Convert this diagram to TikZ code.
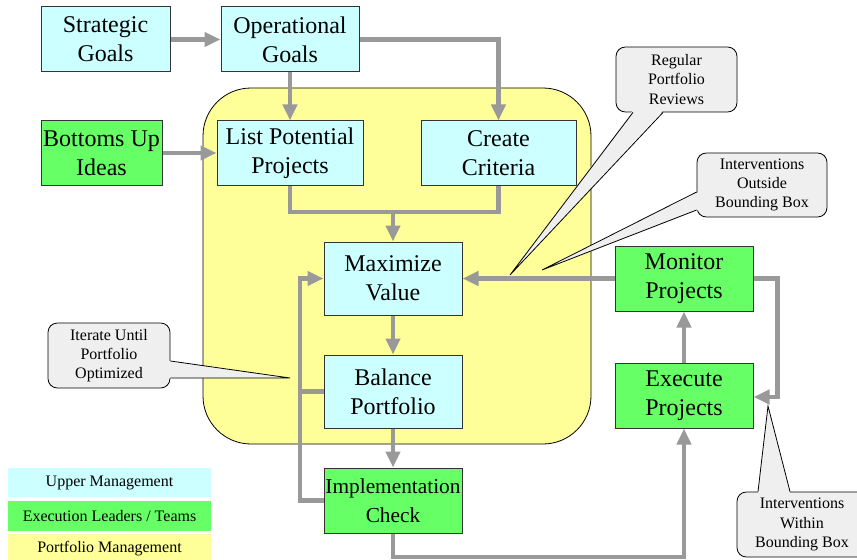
\documentclass[tikz,border=0pt]{standalone}
\usepackage{fontspec}
\setmainfont{Liberation Serif}
\usetikzlibrary{arrows.meta,calc}

\definecolor{uppercol}{HTML}{CCFFFF}
\definecolor{execcol}{HTML}{66FF66}
\definecolor{pfcol}{HTML}{FFFF99}
\definecolor{notecol}{HTML}{EFEFEF}
\definecolor{flowcol}{HTML}{999999}

\tikzset{
  box/.style={draw=black!80,line width=0.75pt,align=center,inner sep=0pt,
    font=\fontsize{18}{21.6}\selectfont,minimum width=103.5pt,minimum height=48.75pt},
  upbox/.style={box,fill=uppercol},
  exbox/.style={box,fill=execcol},
  line/.style={draw=flowcol,line width=3.6pt},
  flow/.style={line,-{Triangle[length=12pt,width=10.5pt]}},
  note/.style={draw=black,fill=notecol,line width=0.6pt,rounded corners=7pt,
    align=center,inner sep=0pt,font=\fontsize{12}{14.4}\selectfont,
    minimum width=91.5pt,minimum height=48.75pt},
  legend/.style={inner sep=0pt,font=\fontsize{12}{14.4}\selectfont,
    minimum width=152.25pt,minimum height=22pt}
}

\begin{document}
\begin{tikzpicture}[x=0.75pt,y=-0.75pt]
\useasboundingbox (0,0) rectangle (857,560);

% portfolio management area
\draw[fill=pfcol,line width=0.6pt,rounded corners=36pt] (203,88) rectangle (591,444);

% boxes
\node[upbox,minimum width=96.75pt] (strat) at (105.5,39.5) {Strategic\\Goals};
\node[upbox] (oper) at (290,39.5) {Operational\\Goals};
\node[exbox,minimum width=90.75pt,minimum height=48pt] (bottom) at (101.5,153) {Bottoms Up\\Ideas};
\node[upbox,minimum width=109.5pt,minimum height=48pt] (list) at (290,153) {List Potential\\Projects};
\node[upbox,minimum width=116.25pt,minimum height=48pt] (crit) at (498.5,153) {Create\\Criteria};
\node[upbox,minimum height=54.75pt] (maxv) at (393,278.5) {Maximize\\Value};
\node[upbox,minimum height=54.75pt] (bal) at (393,391.5) {Balance\\Portfolio};
\node[exbox,font=\fontsize{16}{21.6}\selectfont] (impl) at (393,500.5) {Implementation\\Check};
\node[exbox] (mon) at (684,278.5) {Monitor\\Projects};
\node[exbox] (exe) at (684,395.5) {Execute\\Projects};

\coordinate (join) at (393,212);
\coordinate (loop) at (300,278.5);
\coordinate (low) at (684,557);

% arrows
\draw[flow] (strat) -- (oper);
\draw[flow] (oper) -- (list);
\draw[flow] (oper.east) -| (crit.north);
\draw[flow] (bottom) -- (list);
\draw[line] (list.south) |- (join) -| (crit.south);
\draw[flow] (join) -- (maxv);
\draw[flow] (maxv) -- (bal);
\draw[flow] (bal) -- (impl);
\draw[flow] (impl.west) -| (loop) -- (maxv.west);
\draw[line] (bal.west) -- (bal.west -| loop);
\draw[flow] (impl.south) |- (low) -- (exe.south);
\draw[flow] (exe) -- (mon);
\draw[flow] (mon) -- (maxv);
\draw[flow] (mon.east) -- ++(24,0) |- ($(exe.east)+(0,1.5)$);

% callouts
\node[note,minimum width=90.75pt] (reviews) at (676.5,79.5) {Regular\\Portfolio\\Reviews};
\coordinate (reviewtip) at (510,275);
\fill[notecol] ($(reviews.south)+(-43.5,-2)$) -- (reviewtip) -- ($(reviews.south)+(-13.5,-2)$) -- cycle;
\draw[line width=0.6pt] ($(reviews.south)+(-43.5,0)$) -- (reviewtip) -- ($(reviews.south)+(-13.5,0)$);

\node[note,minimum width=97.5pt,minimum height=48pt] (outside) at (762,185) {Interventions\\Outside\\Bounding Box};
\coordinate (outsidetip) at (542,270);
\fill[notecol] ($(outside.west)+(2,7)$) -- (outsidetip) -- ($(outside.west)+(2,25)$) -- cycle;
\draw[line width=0.6pt] ($(outside.west)+(0,7)$) -- (outsidetip) -- ($(outside.west)+(0,25)$);

\node[note] (iterate) at (109,355.5) {Iterate Until\\Portfolio\\Optimized};
\coordinate (iteratetip) at (290,378);
\fill[notecol] ($(iterate.east)+(-2,5.5)$) -- (iteratetip) -- ($(iterate.east)+(-2,22.5)$) -- cycle;
\draw[line width=0.6pt] ($(iterate.east)+(0,5.5)$) -- (iteratetip) -- ($(iterate.east)+(0,22.5)$);

\node[note,minimum width=97.5pt] (within) at (802,524.5) {Interventions\\Within\\Bounding Box};
\coordinate (withintip) at (768,406);
\fill[notecol] ($(within.north)+(-44,2)$) -- (withintip) -- ($(within.north)+(-12,2)$) -- cycle;
\draw[line width=0.6pt] ($(within.north)+(-44,0)$) -- (withintip) -- ($(within.north)+(-12,0)$);

% legend
\node[legend,fill=uppercol] (lupper) at (109.5,482.5) {Upper Management};
\node[legend,fill=execcol] (lexec) at (109.5,516) {Execution Leaders / Teams};
\node[legend,fill=pfcol] (lpf) at (109.5,548.5) {Portfolio Management};

\end{tikzpicture}
\end{document}
